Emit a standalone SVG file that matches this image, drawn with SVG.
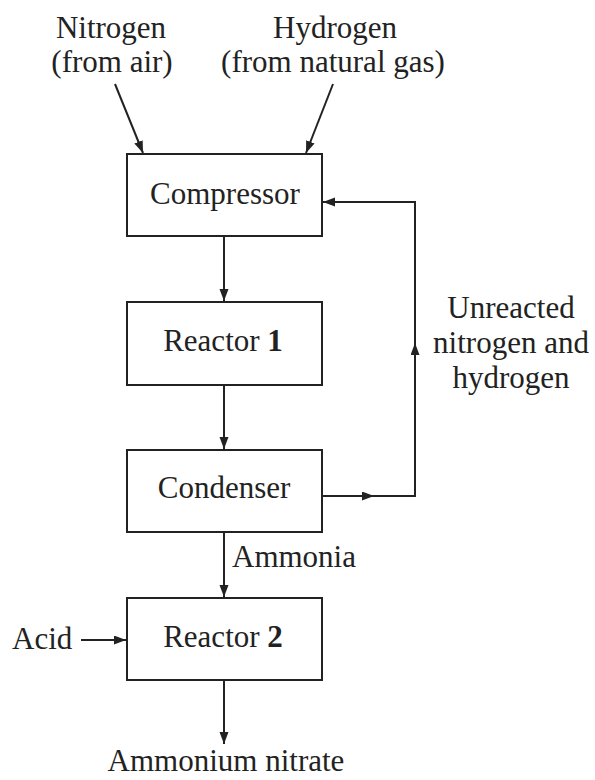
<svg xmlns="http://www.w3.org/2000/svg" width="595" height="780" viewBox="0 0 595 780">
  <style>
    .box { fill: #ffffff; stroke: #222222; stroke-width: 2; }
    .t { font-family: "Liberation Serif", "Times New Roman", serif; font-size: 31px; fill: #222222; }
    .c { text-anchor: middle; }
    .ln { fill: none; stroke: #222222; stroke-width: 2; }
  </style>
  <defs>
    <marker id="ah" markerUnits="userSpaceOnUse" markerWidth="13" markerHeight="10" refX="12" refY="4.5" orient="auto">
      <path d="M0,0 L12,4.5 L0,9 z" fill="#222222"/>
    </marker>
  </defs>
  <rect width="595" height="780" fill="#ffffff"/>

  <g id="connectors">
    <path class="ln" d="M115,84 L143,153" marker-end="url(#ah)"/>
    <path class="ln" d="M333,84 L306,153" marker-end="url(#ah)"/>
    <path class="ln" d="M224,236 V301" marker-end="url(#ah)"/>
    <path class="ln" d="M224,385 V449" marker-end="url(#ah)"/>
    <path class="ln" d="M224,532 V597" marker-end="url(#ah)"/>
    <path class="ln" d="M224,680 V744" marker-end="url(#ah)"/>
    <path class="ln" d="M81,640 H126" marker-end="url(#ah)"/>
    <path class="ln" d="M322,496 H374" marker-end="url(#ah)"/>
    <path class="ln" d="M372,496 H415 V343" marker-end="url(#ah)"/>
    <path class="ln" d="M415,345 V202 H323" marker-end="url(#ah)"/>
  </g>

  <g id="nitrogen">
    <text class="t c" x="111" y="38">Nitrogen</text>
    <text class="t c" x="112" y="72">(from air)</text>
  </g>
  <g id="hydrogen">
    <text class="t c" x="335" y="38">Hydrogen</text>
    <text class="t c" x="333" y="72">(from natural gas)</text>
  </g>
  <g id="compressor">
    <rect class="box" x="127" y="154" width="195" height="82"/>
    <text class="t c" x="225" y="204">Compressor</text>
  </g>
  <g id="reactor1">
    <rect class="box" x="127" y="302" width="195" height="83"/>
    <text class="t c" x="223" y="351">Reactor <tspan font-weight="bold">1</tspan></text>
  </g>
  <g id="condenser">
    <rect class="box" x="127" y="450" width="195" height="82"/>
    <text class="t c" x="224" y="498">Condenser</text>
  </g>
  <g id="reactor2">
    <rect class="box" x="127" y="598" width="195" height="82"/>
    <text class="t c" x="223" y="647">Reactor <tspan font-weight="bold">2</tspan></text>
  </g>
  <g id="unreacted">
    <text class="t c" x="511" y="318">Unreacted</text>
    <text class="t c" x="511" y="353">nitrogen and</text>
    <text class="t c" x="511" y="388">hydrogen</text>
  </g>
  <g id="ammonia">
    <text class="t" x="232" y="567">Ammonia</text>
  </g>
  <g id="acid">
    <text class="t" x="12" y="649">Acid</text>
  </g>
  <g id="ammonium-nitrate">
    <text class="t c" x="226" y="771">Ammonium nitrate</text>
  </g>
</svg>
